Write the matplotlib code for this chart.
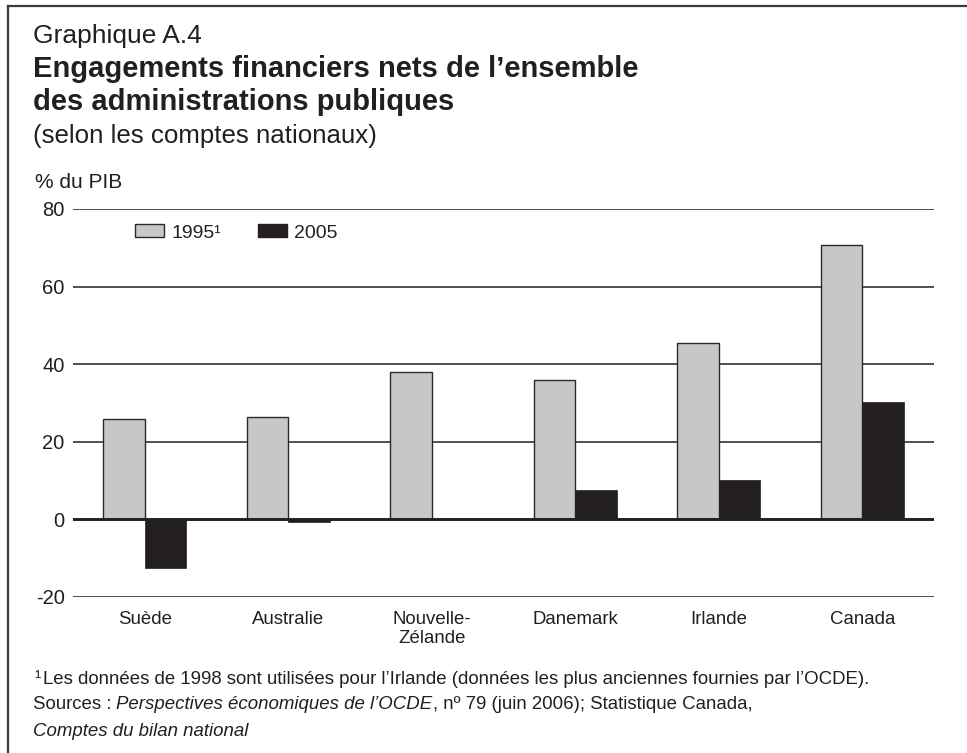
import matplotlib.pyplot as plt
from matplotlib.lines import Line2D
from matplotlib.patches import Patch
import numpy as np

plt.rcParams['font.family'] = ['Liberation Sans', 'DejaVu Sans']

# Data (% du PIB)
pays = ['Suède', 'Australie', 'Nouvelle-\nZélande', 'Danemark', 'Irlande', 'Canada']
val_1995 = [25.8, 26.4, 38.1, 36.0, 45.4, 70.8]
val_2005 = [-12.6, -0.7, 0.0, 7.5, 10.1, 30.3]
yticks = [-20, 0, 20, 40, 60, 80]

W, H = 967, 753
fig = plt.figure(figsize=(W / 100, H / 100), dpi=100)

def fx(px):
    return px / W

def fy(py):
    return 1 - py / H

ink = '#231f20'
gris = '#c6c7c9'

# frame (left + top edges visible)
fig.add_artist(Line2D([fx(8), fx(8)], [fy(6), 0], color='#3a3a3a', lw=1.6))
fig.add_artist(Line2D([fx(8), 1], [fy(6), fy(6)], color='#3a3a3a', lw=1.6))

# titles
fig.text(fx(33), fy(43), 'Graphique A.4', fontsize=19, color=ink, va='baseline')
fig.text(fx(33), fy(77), 'Engagements financiers nets de l’ensemble', fontsize=21,
         fontweight='bold', color=ink, va='baseline')
fig.text(fx(33), fy(110), 'des administrations publiques', fontsize=21,
         fontweight='bold', color=ink, va='baseline')
fig.text(fx(33), fy(143), '(selon les comptes nationaux)', fontsize=18.6, color=ink,
         va='baseline')
fig.text(fx(35), fy(188), '% du PIB', fontsize=15, color=ink, va='baseline')

# axes
ax = fig.add_axes([fx(73), fy(597), fx(934) - fx(73), fy(209) - fy(597)])
x = np.arange(len(pays))
bw = 0.29
ax.bar(x - bw / 2, val_1995, bw, color=gris, edgecolor='#2a2a2a', lw=1.0, zorder=2)
ax.bar(x + bw / 2, val_2005, bw, color=ink, edgecolor=ink, lw=0.5, zorder=2)

for t in yticks:
    if t == 0:
        ax.axhline(t, color=ink, lw=2.1, zorder=3)
    else:
        ax.axhline(t, color=ink, lw=1.1, zorder=1)

ax.set_xlim(-0.5, len(pays) - 0.5)
ax.set_ylim(-20, 80)
ax.set_yticks(yticks)
ax.set_yticklabels([str(t) for t in yticks], fontsize=14.5, color=ink)
ax.set_xticks(x)
ax.set_xticklabels(pays, fontsize=13.4, color=ink, linespacing=1.2, va='top')
ax.tick_params(axis='y', length=0, pad=6)
ax.tick_params(axis='x', length=0, pad=10)
for s in ax.spines.values():
    s.set_visible(False)

handles = [Patch(facecolor=gris, edgecolor='#2a2a2a', lw=1.0),
           Patch(facecolor=ink, edgecolor=ink)]
ax.legend(handles, ['1995¹', '2005'], ncol=2, frameon=False, fontsize=14,
          loc='center left', bbox_to_anchor=((135 - 73) / (934 - 73), (597 - 233) / (597 - 209)),
          handlelength=1.5, handleheight=0.62, handletextpad=0.4, columnspacing=1.85,
          borderaxespad=0, borderpad=0)
for txt in ax.get_legend().get_texts():
    txt.set_color(ink)

# footnotes
fs = 13.4
fig.text(fx(34), fy(684), '¹', fontsize=fs, color=ink, va='baseline')
fig.text(fx(43), fy(684),
         'Les données de 1998 sont utilisées pour l’Irlande (données les plus anciennes fournies par l’OCDE).',
         fontsize=fs, color=ink, va='baseline')
t1 = fig.text(fx(33), fy(709), 'Sources : ', fontsize=fs, color=ink, va='baseline')
t2 = fig.text(0, 0, 'Perspectives économiques de l’OCDE', fontsize=fs, color=ink,
              style='italic', va='baseline')
t3 = fig.text(0, 0, ', nº 79 (juin 2006); Statistique Canada,', fontsize=fs, color=ink,
              va='baseline')
fig.text(fx(33), fy(736), 'Comptes du bilan national', fontsize=fs, color=ink,
         style='italic', va='baseline')

fig.canvas.draw()
r = fig.canvas.get_renderer()
bb = t1.get_window_extent(r)
t2.set_position((bb.x1 / fig.bbox.width, fy(709)))
bb = t2.get_window_extent(r)
t3.set_position((bb.x1 / fig.bbox.width, fy(709)))

fig.savefig('out.png', dpi=100)
